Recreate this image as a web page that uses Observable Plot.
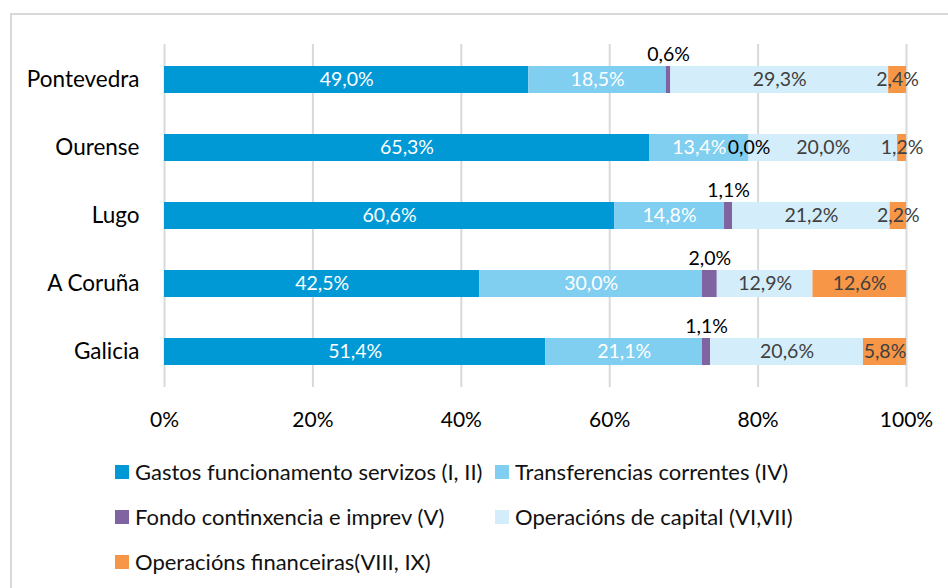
<!DOCTYPE html>
<html><head><meta charset="utf-8">
<script src="https://cdn.jsdelivr.net/npm/d3@7"></script>
<script src="https://cdn.jsdelivr.net/npm/@observablehq/plot@0.6"></script>
<style>
html,body{margin:0;padding:0;background:#fff;}
body{width:948px;height:588px;overflow:hidden;position:relative;font-family:Lato,"Open Sans",sans-serif;}
#frame{position:absolute;left:10px;top:13px;width:1000px;height:700px;border:2px solid #d9d9d9;box-sizing:border-box;}
#chart{position:absolute;left:0;top:0;}
#legend{position:absolute;left:115px;top:449px;display:grid;grid-template-columns:380px 380px;grid-auto-rows:45px;}
.item{display:flex;align-items:center;font-size:22px;color:#111;white-space:nowrap;}
.sw{width:14px;height:14px;margin-right:6px;flex:none;}
</style>
</head><body>
<div id="frame"></div>
<div id="chart"></div>
<div id="legend"></div>
<script>
const regions = ["Pontevedra", "Ourense", "Lugo", "A Coruña", "Galicia"];
const series = [
  "Gastos funcionamento servizos (I, II)",
  "Transferencias correntes (IV)",
  "Fondo continxencia e imprev (V)",
  "Operacións de capital (VI,VII)",
  "Operacións financeiras(VIII, IX)"
];
const colors = ["#0099d6", "#80cef0", "#8064a2", "#d3eefa", "#f79646"];
const gastos        = [49.0, 65.3, 60.6, 42.5, 51.4];
const transferencias = [18.5, 13.4, 14.8, 30.0, 21.1];
const fondo         = [0.6, 0.0, 1.1, 2.0, 1.1];
const capital       = [29.3, 20.0, 21.2, 12.9, 20.6];
const financeiras   = [2.4, 1.2, 2.2, 12.6, 5.8];
const xTicks = [0, 0.2, 0.4, 0.6, 0.8, 1];

const valuesBySeries = [gastos, transferencias, fondo, capital, financeiras];
const data = [];
regions.forEach((r, i) => series.forEach((s, j) => data.push({region: r, series: s, value: valuesBySeries[j][i]})));

const fmt = v => v.toFixed(1).replace(".", ",") + "%";
const font = "Lato, 'Open Sans', sans-serif";
const stackOpts = extra => Plot.stackX({x: "value", y: "region", z: "series", order: series, offset: "normalize", ...extra});

const chart = Plot.plot({
  width: 948, height: 440,
  marginLeft: 164, marginRight: 42, marginTop: 44, marginBottom: 53,
  style: {fontFamily: font, background: "transparent", overflow: "visible"},
  x: {domain: [0, 1], label: null},
  y: {domain: regions, paddingInner: 0.6, paddingOuter: 0.3, label: null},
  color: {domain: series, range: colors},
  marks: [
    Plot.gridX(xTicks, {stroke: "#d9d9d9", strokeOpacity: 1, strokeWidth: 2}),
    Plot.barX(data, stackOpts({fill: "series"})),
    Plot.text(data, stackOpts({text: d => (d.series === series[0] || d.series === series[1]) ? fmt(d.value) : "", fill: "white", fontSize: 19.5})),
    Plot.text(data, stackOpts({text: d => (d.series === series[3] || d.series === series[4]) ? fmt(d.value) : "", fill: "#404040", fontSize: 19.5})),
    Plot.text(data, stackOpts({text: d => (d.series === series[2] && d.value > 0) ? fmt(d.value) : "", fill: "#000", fontSize: 19.5, dy: -25})),
    Plot.text(data, stackOpts({text: d => (d.series === series[2] && d.value === 0) ? fmt(d.value) : "", fill: "#000", fontSize: 19.5})),
    Plot.axisX({ticks: xTicks, tickFormat: d => Math.round(d * 100) + "%", tickSize: 0, tickPadding: 25, fontSize: 21, fill: "#000", label: null}),
    Plot.axisY({tickSize: 0, tickPadding: 25, fontSize: 22.5, fill: "#000", label: null})
  ]
});
document.getElementById("chart").appendChild(chart);

const legend = document.getElementById("legend");
series.forEach((s, i) => {
  const item = document.createElement("div");
  item.className = "item";
  const sw = document.createElement("span");
  sw.className = "sw";
  sw.style.background = colors[i];
  item.appendChild(sw);
  item.appendChild(document.createTextNode(s));
  legend.appendChild(item);
});
</script>
</body></html>
